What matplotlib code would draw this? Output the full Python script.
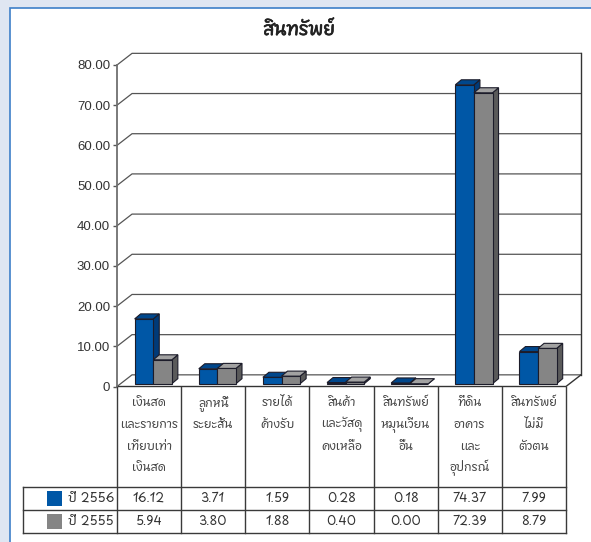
import matplotlib
matplotlib.use("Agg")
import matplotlib.pyplot as plt
from matplotlib import font_manager
import matplotlib.patheffects as pe
from matplotlib.patches import Polygon, Rectangle
from matplotlib.lines import Line2D

# ---------------- data ----------------
title = "สินทรัพย์"
categories = [
    ["เงินสด", "และรายการ", "เทียบเท่า", "เงินสด"],
    ["ลูกหนี้", "ระยะสั้น"],
    ["รายได้", "ค้างรับ"],
    ["สินค้า", "และวัสดุ", "คงเหลือ"],
    ["สินทรัพย์", "หมุนเวียน", "อื่น"],
    ["ที่ดิน", "อาคาร", "และ", "อุปกรณ์"],
    ["สินทรัพย์", "ไม่มี", "ตัวตน"],
]
series_names = ["ปี 2556", "ปี 2555"]
values_2556 = [16.12, 3.71, 1.59, 0.28, 0.18, 74.37, 7.99]
values_2555 = [5.94, 3.80, 1.88, 0.40, 0.00, 72.39, 8.79]
yticks = [0, 10, 20, 30, 40, 50, 60, 70, 80]
ytick_labels = ["0", "10.00", "20.00", "30.00", "40.00", "50.00", "60.00", "70.00", "80.00"]

# ---------------- font selection ----------------
def find_thai_font():
    try:
        from fontTools.ttLib import TTFont
    except Exception:
        return None
    cands = []
    for f in font_manager.fontManager.ttflist:
        try:
            tt = TTFont(f.fname, fontNumber=0, lazy=True)
            cmap = tt.getBestCmap()
            if cmap and 0x0E2A in cmap and 0x0032 in cmap:
                score = 0
                n = f.name.lower()
                if "thai" in n:
                    score += 5
                if "looped" in n:
                    score -= 2
                if "sans" in n:
                    score += 2
                cands.append((score, f.name))
        except Exception:
            pass
    if not cands:
        return None
    cands.sort(reverse=True)
    return cands[0][1]

thai = find_thai_font()
fam = ([thai] if thai else []) + ["DejaVu Sans"]
plt.rcParams["font.family"] = fam

W_PX, H_PX = 591, 542
fig = plt.figure(figsize=(W_PX / 100, H_PX / 100), dpi=100)
fig.patch.set_facecolor("#dfe6f2")

def fx(px):
    return px / W_PX

def fy(py):
    return 1 - py / H_PX

# white panel with blue border
panel = Rectangle((fx(10), -0.1), 1.2, fy(8) + 0.1, transform=fig.transFigure,
                  facecolor="white", edgecolor="#3d7fc8", lw=1.2, zorder=-10)
fig.patches.append(panel)

fig.text(fx(299), fy(30), title, ha="center", va="center",
         fontsize=13, fontweight="bold", color="#222222",
         path_effects=[pe.withStroke(linewidth=0.5, foreground="#222222")])

# ---------------- geometry ----------------
n = len(values_2556)
DX = 15 / 64.0       # wall depth in category units
DY = 2.9             # wall depth in value units
X0, X1 = -0.5, n - 0.5
YMAX = 80

left_px, right_px = 117, 581
bot_px = 386.5
px_per_unit = (bot_px - 65) / YMAX
top_px = bot_px - (YMAX + DY) * px_per_unit
ax = fig.add_axes([fx(left_px), fy(bot_px), fx(right_px - left_px),
                   (bot_px - top_px) / H_PX])
ax.set_xlim(X0, X1 + DX)
ax.set_ylim(0, YMAX + DY)
ax.patch.set_alpha(0)
for s in ["top", "right", "bottom"]:
    ax.spines[s].set_visible(False)
ax.spines["left"].set_bounds(0, YMAX)
ax.spines["left"].set_color("#707070")
ax.spines["left"].set_linewidth(1.3)
ax.set_xticks([])
ax.set_yticks(yticks)
ax.set_yticklabels(ytick_labels, family=["Liberation Sans", "DejaVu Sans"])
ax.tick_params(axis="y", direction="out", length=3, width=1, color="#555555",
               labelsize=9.5, labelcolor="#333333", pad=2)

line_c = "#555555"
# gridlines (back wall) with diagonals
for v in yticks:
    ax.plot([X0, X0 + DX, X1 + DX], [v, v + DY, v + DY], color=line_c,
            lw=0.9, clip_on=False, zorder=1)
# back wall right edge
ax.plot([X1 + DX, X1 + DX], [DY, YMAX + DY], color="#333333", lw=1.0,
        clip_on=False, zorder=1)
# floor front edge and right diagonal
ax.plot([X0, X1, X1 + DX], [0, 0, DY], color="#333333", lw=1.0,
        clip_on=False, zorder=1)

# ---------------- bars ----------------
BW = 0.29
BDX = 6 / 64.0
BDY = 1.25
BZ = 0.7   # bars sit slightly behind the front edge of the floor
series = [
    (values_2556, -0.225, ("#0057a6", "#00478c", "#003a78")),
    (values_2555, 0.065, ("#858585", "#a2a2a2", "#5a5a5a")),
]
edge = "#1c1c2a"
for i in range(n):
    for vals, off, (cf, ct, cs) in series:
        v = vals[i] + BZ
        b = BZ
        x0 = i + off
        x1 = x0 + BW
        front = Polygon([(x0, b), (x1, b), (x1, v), (x0, v)], closed=True,
                        facecolor=cf, edgecolor=edge, lw=0.8, zorder=3)
        side = Polygon([(x1, b), (x1 + BDX, b + BDY), (x1 + BDX, v + BDY), (x1, v)],
                       closed=True, facecolor=cs, edgecolor=edge, lw=0.8, zorder=3)
        top = Polygon([(x0, v), (x1, v), (x1 + BDX, v + BDY), (x0 + BDX, v + BDY)],
                      closed=True, facecolor=ct, edgecolor=edge, lw=0.8, zorder=3)
        ax.add_patch(side)
        ax.add_patch(front)
        ax.add_patch(top)

# ---------------- table ----------------
tab = fig.add_axes([0, 0, 1, 1])
tab.set_xlim(0, W_PX)
tab.set_ylim(H_PX, 0)
tab.axis("off")
tab.patch.set_alpha(0)

col_w = (566 - 117) / n
col_edges = [117 + k * col_w for k in range(n + 1)]
t_top, t_cat_bot, t_r1, t_r2 = 386.5, 487, 510, 533
tc = "#3a3a3a"
for k, xe in enumerate(col_edges):
    tab.add_line(Line2D([xe, xe], [t_top, t_r2], color=tc, lw=1.0))
for yy in [t_cat_bot, t_r1, t_r2]:
    tab.add_line(Line2D([23, col_edges[-1]], [yy, yy], color=tc, lw=1.0))
tab.add_line(Line2D([23, 23], [t_cat_bot, t_r2], color=tc, lw=1.0))

for i, lines in enumerate(categories):
    cx = (col_edges[i] + col_edges[i + 1]) / 2
    for j, s in enumerate(lines):
        tab.text(cx, 403 + j * 21.5, s, ha="center", va="center",
                 fontsize=8.5, color="#444444")

row_y = [(t_cat_bot + t_r1) / 2, (t_r1 + t_r2) / 2]
sq_colors = ["#0057a6", "#858585"]
for r, (name, vals) in enumerate(zip(series_names, [values_2556, values_2555])):
    yc = row_y[r]
    tab.add_patch(Rectangle((47, yc - 7.5), 15, 15, facecolor=sq_colors[r],
                            edgecolor="none"))
    tab.text(68, yc, name, ha="left", va="center", fontsize=9, color="#333333")
    for i, v in enumerate(vals):
        cx = (col_edges[i] + col_edges[i + 1]) / 2
        tab.text(cx, yc, f"{v:.2f}", ha="center", va="center", fontsize=9,
                 color="#333333")

fig.savefig("out.png", dpi=100, facecolor=fig.get_facecolor())
